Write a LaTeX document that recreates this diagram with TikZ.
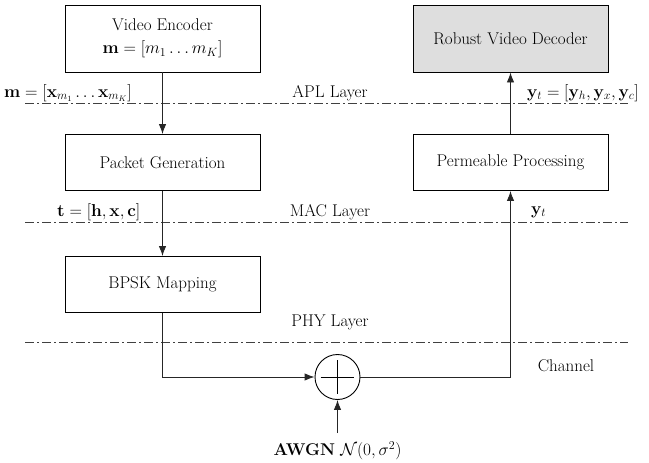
\documentclass[tikz,border=0pt]{standalone}
\usetikzlibrary{arrows.meta,calc}
\usepackage{amsmath}
\begin{document}
\begin{tikzpicture}[x=1pt,y=-1pt,
  font=\fontsize{17}{20}\selectfont,
  box/.style={draw, line width=0.9pt, minimum width=195pt, minimum height=56pt, inner sep=0pt, align=center},
  layerline/.style={line width=1pt, draw=black!75, dash pattern=on 9pt off 3pt on 2pt off 3pt},
  conn/.style={line width=0.9pt, draw=black!85},
  arr/.style={conn, -{Latex[length=10pt,width=7.5pt]}},
  lbl/.style={inner sep=0pt}]
\useasboundingbox (0,0) rectangle (649,463);
% layer lines
\draw[layerline] (25,103) -- (628,103);
\draw[layerline] (25,222) -- (628,222);
\draw[layerline] (25,342) -- (628,342);
% boxes
\node[box, minimum height=67pt] (enc) at (162.5,38.5) {Video Encoder\\[3pt] $\mathbf{m}=[m_1\ldots m_K]$};
\node[box, minimum height=67pt, fill=black!13] (dec) at (510.5,38.5) {Robust Video Decoder};
\node[box] (pg) at (162.5,162.5) {Packet Generation};
\node[box] (pp) at (510.5,162.5) {Permeable Processing};
\node[box] (bpsk) at (162.5,284.5) {BPSK Mapping};
\node[draw, circle, line width=0.9pt, minimum size=45pt, inner sep=0pt] (sum) at (337.5,377) {};
\draw[line width=0.9pt] ($(sum.north)+(0,6)$) -- ($(sum.south)+(0,-6)$);
\draw[line width=0.9pt] ($(sum.west)+(6,0)$) -- ($(sum.east)+(-6,0)$);
% labels
\node[lbl] (apl) at (330,93) {APL Layer};
\node[lbl] (mac) at (330,212) {MAC Layer};
\node[lbl] (phy) at (330,322) {PHY Layer};
\node[lbl] (chan) at (566,366) {Channel};
\node[lbl, anchor=west] (ml) at (4,93) {$\mathbf{m}=[\mathbf{x}_{m_1}\ldots\mathbf{x}_{m_K}]$};
\node[lbl, anchor=west] (tl) at (57,212) {$\mathbf{t}=[\mathbf{h},\mathbf{x},\mathbf{c}]$};
\node[lbl, anchor=west] (yl) at (527,93) {$\mathbf{y}_t=[\mathbf{y}_h,\mathbf{y}_x,\mathbf{y}_c]$};
\node[lbl, anchor=west] (ytl) at (531,212) {$\mathbf{y}_t$};
\node[lbl] (awgn) at (337.5,451) {\textbf{AWGN} $\mathcal{N}(0,\sigma^2)$};
\coordinate (noise) at (337.5,433);
% connectors
\draw[arr] (enc) -- (pg);
\draw[arr] (pg) -- (bpsk);
\draw[arr] (bpsk.south) |- (sum.west);
\draw[arr] (sum.east) -| (pp.south);
\draw[arr] (pp) -- (dec);
\draw[arr] (noise) -- (sum.south);
\end{tikzpicture}
\end{document}
